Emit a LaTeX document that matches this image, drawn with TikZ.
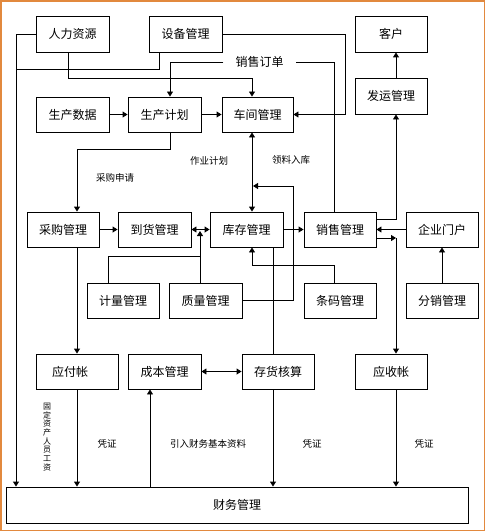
\documentclass[tikz,border=0pt]{standalone}
\usepackage{fontspec}
\setmainfont{Noto Sans CJK SC}
\usetikzlibrary{arrows.meta}
\definecolor{frameor}{RGB}{226,137,62}
\tikzset{
  box/.style={draw, line width=0.9pt, minimum height=35pt, minimum width=73pt, inner sep=0pt, font=\fontsize{12}{14}\selectfont},
  lab/.style={font=\fontsize{9.5}{11}\selectfont, inner sep=0pt},
  vlab/.style={font=\fontsize{8}{8.7}\selectfont, inner sep=0pt, align=center},
  ln/.style={line width=0.9pt},
  arr/.style={ln, -{Triangle[length=5pt,width=6pt]}},
  dbl/.style={ln, {Triangle[length=5pt,width=6pt]}-{Triangle[length=5pt,width=6pt]}},
  frame/.style={draw=frameor, line width=1.6pt}
}
\begin{document}
\begin{tikzpicture}[x=1pt,y=-1pt]
\useasboundingbox (0,0) rectangle (486,532);
\draw[frame] (1,1) rectangle (484.5,530.5);

% boxes
\node[box, minimum height=36pt] (rlzy) at (72.5,34) {人力资源};
\node[box, minimum height=36pt] (sbgl) at (185.5,34) {设备管理};
\node[box, minimum height=36pt, minimum width=72pt] (kh) at (391,34) {客户};
\node[box, minimum height=36pt, minimum width=72pt] (fygl) at (391,96) {发运管理};
\node[box] (scsj) at (72.5,114.5) {生产数据};
\node[box] (scjh) at (164.5,114.5) {生产计划};
\node[box, minimum width=71pt] (cjgl) at (257.5,114.5) {车间管理};
\node[box, minimum width=72pt] (cggl) at (63,229.5) {采购管理};
\node[box] (dhgl) at (154.5,229.5) {到货管理};
\node[box] (kcgl) at (246.5,229.5) {库存管理};
\node[box, minimum width=72pt] (xsgl) at (340,229.5) {销售管理};
\node[box, minimum width=72pt] (qymh) at (442,229.5) {企业门户};
\node[box, minimum width=72pt] (jlgl) at (123,300.5) {计量管理};
\node[box] (zlgl) at (205.5,300.5) {质量管理};
\node[box, minimum width=72pt] (tmgl) at (340,300.5) {条码管理};
\node[box, minimum width=72pt] (fxgl) at (442,300.5) {分销管理};
\node[box, minimum width=82pt] (yfz) at (77,371.5) {\hspace*{-14pt}应付帐};
\node[box] (cbgl) at (164.5,371.5) {成本管理};
\node[box, minimum width=72pt] (chhs) at (278,371.5) {存货核算};
\node[box, minimum width=72pt] (ysz) at (391,371.5) {应收帐};
\node[box, minimum width=462pt, minimum height=36pt] (cwgl) at (237,505) {财务管理};

% label on the sales-order line
\node[inner xsep=12pt, inner ysep=0pt, font=\fontsize{12}{14}\selectfont] (xsdd) at (259.5,62) {销售订单};

% connectors
\coordinate (L) at (16,34);
\draw[arr] (rlzy.west) -- (L) -- (L |- cwgl.north);
\draw[ln] (159,0 |- sbgl.south) |- (16,69);
\draw[arr] (68,0 |- rlzy.south) |- (252,78) -- (252,0 |- cjgl.north);
\draw[arr] (sbgl.east) -| (345,0 |- cjgl.east) -- (cjgl.east);
\draw[ln] (334,0 |- xsgl.north) |- (xsdd.east);
\draw[arr] (xsdd.west) -| (170,0 |- scjh.north);
\draw[arr] (scsj) -- (scjh);
\draw[arr] (scjh) -- (cjgl);
\draw[dbl] (252,0 |- cjgl.south) -- (252,0 |- kcgl.north);
\draw[arr] (170,0 |- scjh.south) |- (77,149) -- (77,0 |- cggl.north);
\draw[arr] (zlgl.east) -| (293,186) -- (253,186);
\draw[arr] (cggl) -- (dhgl);
\draw[dbl] (dhgl) -- (kcgl);
\draw[ln] (108,0 |- jlgl.north) |- (200,256);
\draw[arr] (200,0 |- zlgl.north) -- (200,231);
\draw[arr] (kcgl) -- (xsgl);
\draw[arr] (334,0 |- tmgl.north) |- (252,265) -- (252,0 |- kcgl.south);
\draw[ln] (273,0 |- kcgl.south) -- (273,0 |- chhs.north);
\draw[arr] (273,0 |- chhs.south) -- (273,0 |- cwgl.north);
\draw[arr] (xsgl.east |- 0,219) -| (396,0 |- fygl.south);
\draw[arr] (396,0 |- fygl.north) -- (396,0 |- kh.south);
\draw[arr] (qymh) -- (xsgl);
\draw[arr] (xsgl.east |- 0,238) -- (396,238);
\draw[arr] (396,238) -- (396,0 |- ysz.north);
\draw[arr] (396,0 |- ysz.south) -- (396,0 |- cwgl.north);
\draw[arr] (fxgl) -- (qymh);
\draw[arr] (77,0 |- cggl.south) -- (yfz.north);
\draw[arr] (yfz.south) -- (yfz.south |- cwgl.north);
\draw[dbl] (cbgl) -- (chhs);
\draw[arr] (150,0 |- cwgl.north) -- (150,0 |- cbgl.south);

% labels
\node[lab] at (115,178) {采购申请};
\node[lab] at (209,161) {作业计划};
\node[lab] at (291,160) {领料入库};
\node[lab] at (107,444) {凭证};
\node[lab] at (208,444) {引入财务基本资料};
\node[lab] at (312,444) {凭证};
\node[lab] at (424,444) {凭证};
\node[vlab] at (47,437) {固\\定\\资\\产\\人\\员\\工\\资};
\end{tikzpicture}
\end{document}
